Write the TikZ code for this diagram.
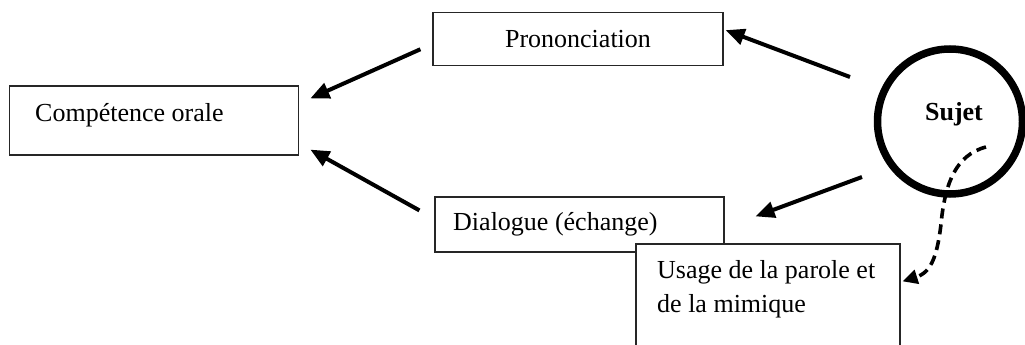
\documentclass[tikz,border=0pt]{standalone}
\usepackage{fontspec}
\setmainfont{Liberation Serif}
\usetikzlibrary{arrows.meta,calc}
\begin{document}
\begin{tikzpicture}[x=1pt,y=-1pt,
  box/.style={draw=black!85,line width=1.2pt,fill=white,rectangle,inner sep=0pt},
  lbl/.style={font=\fontsize{26}{34}\selectfont,inner sep=0pt},
  arr/.style={line width=4pt,-{Triangle[length=19pt,width=16pt]}},
  darr/.style={line width=3.6pt,dash pattern=on 10pt off 6pt,-{Triangle[length=15pt,width=14pt]}}]
\useasboundingbox (0,0) rectangle (1025,345);
\clip (0,0) rectangle (1025,345);
\fill[white] (0,0) rectangle (1025,345);
% boxes
\node[box,minimum width=289pt,minimum height=69pt] (comp) at (154.25,120.5) {};
\node[lbl,anchor=base west] (tcomp) at (35,121) {Compétence orale};
\node[box,minimum width=290pt,minimum height=53pt] (pron) at (578,39.25) {};
\node[lbl,anchor=base] (tpron) at (578,48) {Prononciation};
\node[box,minimum width=289pt,minimum height=55pt] (dial) at (579.5,224.5) {};
\node[lbl,anchor=base west] (tdial) at (453,230) {Dialogue (échange)};
\node[box,minimum width=264pt,minimum height=130pt] (usage) at (768,309) {};
\node[lbl,anchor=base west] (tusage1) at (657,278) {Usage de la parole et};
\node[lbl,anchor=base west] (tusage2) at (657,312) {de la mimique};
% subject circle
\node[circle,draw,line width=7.5pt,minimum size=145pt,inner sep=0pt] (sujet) at (950,121.5) {};
\node[lbl,font=\fontsize{26}{34}\selectfont\bfseries,anchor=base] (tsujet) at (954,120) {Sujet};
% arrows
\draw[arr] ($(sujet.center)+(-100,-44.5)$) -- ($(pron.north east)+(2,18)$);
\draw[arr] ($(pron.west)+(-12,10)$) -- ($(comp.north east)+(11,13)$);
\draw[arr] ($(dial.north west)+(-15,14)$) -- ($(comp.south east)+(11,-6)$);
\draw[arr] ($(sujet.center)+(-88,55.5)$) -- ($(dial.north east)+(31,20)$);
\draw[darr] ($(sujet.center)+(36,25.5)$) .. controls (955,155) and (946,185) .. (942,215)
  .. controls (938,255) and (932,272) .. ($(usage.north east)+(2,38)$);
\end{tikzpicture}
\end{document}
